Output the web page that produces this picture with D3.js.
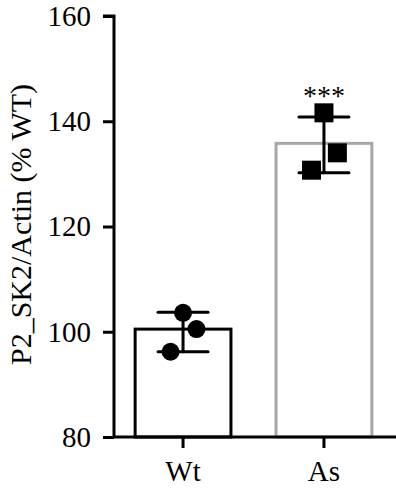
<!DOCTYPE html>
<html><head><meta charset="utf-8">
<script src="https://cdn.jsdelivr.net/npm/d3@7"></script>
<style>body{margin:0;background:#fff}svg{display:block}</style>
</head><body>
<script>
const categories = ["Wt", "As"];
const means = [100.5, 135.8];
const errLow = [96.2, 130.2];
const errHigh = [103.7, 140.8];
const pointsWt = [103.6, 100.5, 96.2];
const pointsAs = [141.6, 134.0, 130.7];
const jitterWt = [0, 0.14, -0.13];
const jitterAs = [0, 0.14, -0.13];
const yTicks = [80, 100, 120, 140, 160];
const signif = ["", "***"];

const W = 396, H = 497;
const svg = d3.select("body").append("svg").attr("width", W).attr("height", H);
const font = "Liberation Serif, Times New Roman, serif";

const y = d3.scaleLinear().domain([80, 160]).range([437, 16]);
const x = d3.scaleBand().domain(categories).range([114, 393]).paddingInner(0.32).paddingOuter(0.15);
const bw = x.bandwidth();
const cx = c => x(c) + bw / 2;

// bars
const colors = ["#000", "#a6a6a6"];
svg.selectAll("rect.bar").data(categories).join("rect")
  .attr("x", c => x(c)).attr("width", bw)
  .attr("y", (c, i) => y(means[i])).attr("height", (c, i) => y(80) - y(means[i]))
  .attr("fill", "#fff").attr("stroke", (c, i) => colors[i]).attr("stroke-width", 3);

// error bars
const capW = 25;
categories.forEach((c, i) => {
  const g = svg.append("g").attr("stroke", "#000").attr("stroke-width", 3).attr("stroke-linecap", "round");
  g.append("line").attr("x1", cx(c)).attr("x2", cx(c)).attr("y1", y(errLow[i])).attr("y2", y(errHigh[i]));
  [errLow[i], errHigh[i]].forEach(v => g.append("line").attr("x1", cx(c) - capW).attr("x2", cx(c) + capW).attr("y1", y(v)).attr("y2", y(v)));
});

// points
svg.selectAll("circle.pt").data(pointsWt).join("circle")
  .attr("cx", (d, i) => cx("Wt") + jitterWt[i] * bw).attr("cy", d => y(d)).attr("r", 9).attr("fill", "#000");
const sq = 19;
svg.selectAll("rect.pt").data(pointsAs).join("rect")
  .attr("x", (d, i) => cx("As") + jitterAs[i] * bw - sq / 2).attr("y", d => y(d) - sq / 2)
  .attr("width", sq).attr("height", sq).attr("fill", "#000");

// significance
svg.selectAll("text.sig").data(categories).join("text")
  .attr("x", c => cx(c)).attr("y", (c, i) => y(errHigh[i]) - 12)
  .attr("text-anchor", "middle").attr("font-family", font).attr("font-size", 28)
  .text((c, i) => signif[i]);

// axes
const yAxis = d3.axisLeft(y).tickValues(yTicks).tickSize(11).tickPadding(12);
const gy = svg.append("g").attr("transform", "translate(114,0)").call(yAxis);
gy.select(".domain").attr("stroke-width", 3).attr("d", `M-11,${y(160)}H0V${y(80)}`);
gy.selectAll(".tick line").attr("stroke-width", 3);
gy.selectAll(".tick text").attr("font-family", font).attr("font-size", 29).attr("fill", "#000");

const xAxis = d3.axisBottom(x).tickSize(11).tickPadding(12);
const gx = svg.append("g").attr("transform", `translate(0,${y(80)})`).call(xAxis);
gx.select(".domain").attr("stroke-width", 3).attr("d", "M114,0H396");
gx.selectAll(".tick line").attr("stroke-width", 3);
gx.selectAll(".tick text").attr("font-family", font).attr("font-size", 29).attr("fill", "#000");

svg.append("text").attr("transform", `translate(31,${(y(80) + y(160)) / 2 - 2}) rotate(-90)`)
  .attr("text-anchor", "middle").attr("font-family", font).attr("font-size", 30)
  .text("P2_SK2/Actin (% WT)");
</script>
</body></html>
